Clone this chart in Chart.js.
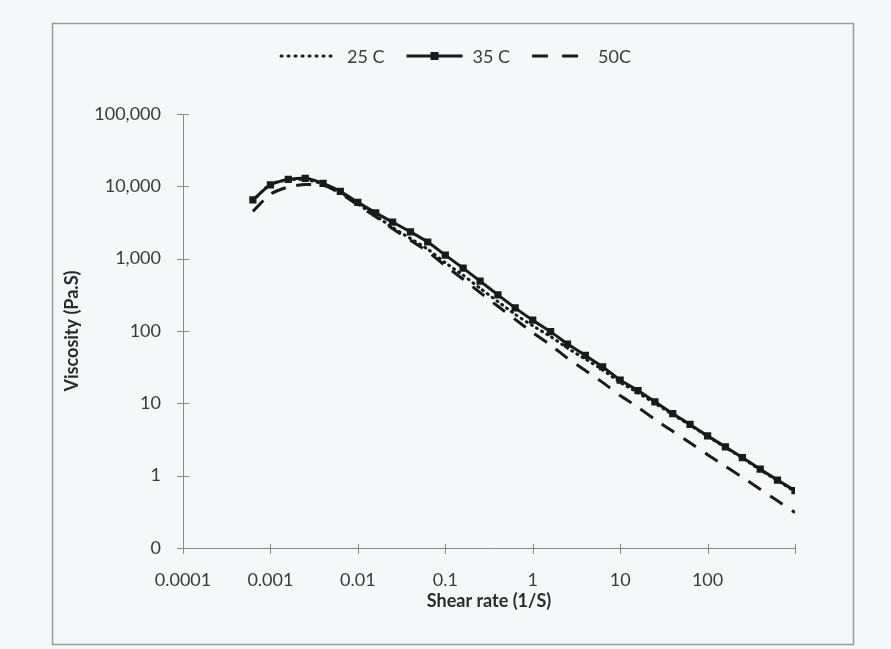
<!DOCTYPE html>
<html>
<head>
<meta charset="utf-8">
<script src="https://cdn.jsdelivr.net/npm/chart.js@4.4.1/dist/chart.umd.min.js"></script>
<style>
  html, body { margin: 0; padding: 0; background: #f6f7f9; }
  #wrap { width: 891px; height: 649px; position: relative; }
</style>
</head>
<body>
<div id="wrap"><canvas id="viscosite"></canvas></div>
<script>
// viscosity vs shear rate, 3 temperatures (log-log)

const shearRate = [0.00063, 0.001, 0.0016, 0.0025, 0.004, 0.0063, 0.01, 0.016, 0.025, 0.04, 0.063,
    0.1, 0.16, 0.25, 0.4, 0.63, 1, 1.6, 2.5, 4, 6.3, 10, 16, 25, 40, 63, 100, 160, 250, 400, 630, 1000];

const visc25 = [6300, 10800, 12300, 12400, 10800, 8300, 5700, 3900, 2700, 1900, 1350,
    880, 590, 390, 255, 170, 118, 84, 58, 41, 29, 19.5, 14, 10, 7, 5, 3.5, 2.45, 1.75, 1.2, 0.86, 0.6];

const visc35 = [6500, 10500, 12500, 12900, 11000, 8500, 6000, 4300, 3200, 2350, 1700,
    1120, 740, 490, 316, 209, 141, 98, 66, 46, 32, 21, 15, 10.5, 7.2, 5.1, 3.55, 2.5, 1.78, 1.23, 0.87, 0.62];

const visc50 = [4500, 7800, 9800, 10600, 10400, 8000, 5500, 3800, 2600, 1800, 1250,
    800, 520, 340, 220, 145, 95, 64, 42, 28.5, 19.5, 12.8, 8.8, 6.0, 4.1, 2.85, 1.95, 1.35, 0.95, 0.65, 0.45, 0.31];

const seriesNames = ["25 C", "35 C", "50C"];

const xTicks = [0.0001, 0.001, 0.01, 0.1, 1, 10, 100, 1000];
const xTickLabels = ["0.0001", "0.001", "0.01", "0.1", "1", "10", "100", ""];
const yTicks = [0.1, 1, 10, 100, 1000, 10000, 100000];
const yTickLabels = ["0", "1", "10", "100", "1,000", "10,000", "100,000"];

const ink = "#1a1a1a";
const axisGrey = "#8a8a8a";
const textGrey = "#3b3b3b";

function points(values) {
    return shearRate.map((x, i) => ({ x: x, y: values[i] }));
}

// frame around the whole chart
const framePlugin = {
    id: "frame",
    beforeDraw(chart) {
        const c = chart.ctx;
        c.save();
        c.strokeStyle = "#9a9a9a";
        c.lineWidth = 1.5;
        c.strokeRect(52.5, 23.5, 801, 621);
        c.restore();
    }
};

// excel style ticks that cross the axis
const crossTicks = {
    id: "crossTicks",
    afterDraw(chart) {
        const c = chart.ctx;
        const xs = chart.scales.x;
        const ys = chart.scales.y;
        const area = chart.chartArea;
        c.save();
        c.strokeStyle = axisGrey;
        c.lineWidth = 1;
        yTicks.forEach(v => {
            const py = Math.round(ys.getPixelForValue(v)) + 0.5;
            c.beginPath();
            c.moveTo(area.left - 6, py);
            c.lineTo(area.left + 6, py);
            c.stroke();
        });
        xTicks.forEach(v => {
            const px = Math.round(xs.getPixelForValue(v)) + 0.5;
            c.beginPath();
            c.moveTo(px, area.bottom - 4);
            c.lineTo(px, area.bottom + 6);
            c.stroke();
        });
        c.restore();
    }
};

// legend drawn by hand (line samples with dash / marker)
const legendPlugin = {
    id: "legendLines",
    afterDraw(chart) {
        const c = chart.ctx;
        const sample = 56, gap = 10, between = 22, y = 56;
        c.save();
        c.font = "18px Lato";
        c.textBaseline = "middle";
        const widths = chart.data.datasets.map(d => c.measureText(d.label).width);
        let total = 0;
        widths.forEach(w => total += sample + gap + w);
        total += between * (widths.length - 1);
        let x = 456 - total / 2;
        chart.data.datasets.forEach((d, i) => {
            c.strokeStyle = d.borderColor;
            c.lineWidth = d.borderWidth;
            c.lineCap = d.borderCapStyle || "butt";
            c.setLineDash(d.legendDash || []);
            c.beginPath();
            c.moveTo(x, y);
            c.lineTo(x + sample, y);
            c.stroke();
            c.setLineDash([]);
            if (d.pointRadius > 0) {
                c.fillStyle = d.borderColor;
                c.fillRect(x + sample / 2 - 4, y - 4, 8, 8);
            }
            c.fillStyle = textGrey;
            c.fillText(d.label, x + sample + gap, y + 1);
            x += sample + gap + widths[i] + between;
        });
        c.restore();
    }
};

const config = {
    type: "line",
    data: {
        datasets: [{
            label: seriesNames[0],
            data: points(visc25),
            borderColor: ink,
            borderWidth: 3,
            borderDash: [1, 5],
            legendDash: [1, 6],
            borderCapStyle: "round",
            pointRadius: 0,
            tension: 0.2,
            order: 2
        }, {
            label: seriesNames[1],
            data: points(visc35),
            borderColor: ink,
            backgroundColor: ink,
            borderWidth: 3,
            pointStyle: "rect",
            pointRadius: 3,
            pointBackgroundColor: ink,
            pointBorderColor: ink,
            tension: 0.2,
            order: 1
        }, {
            label: seriesNames[2],
            data: points(visc50),
            borderColor: ink,
            borderWidth: 3,
            borderDash: [15, 11],
            legendDash: [16, 14],
            pointRadius: 0,
            tension: 0.2,
            order: 3
        }]
    },
    options: {
        responsive: true,
        maintainAspectRatio: false,
        animation: false,
        layout: {
            padding: { top: 114, right: 96, left: 0, bottom: 0 }
        },
        plugins: {
            legend: { display: false },
            tooltip: { enabled: false }
        },
        scales: {
            x: {
                type: "logarithmic",
                min: 0.0001,
                max: 1000,
                afterBuildTicks: s => { s.ticks = xTicks.map(v => ({ value: v })); },
                afterFit: s => { s.height = 101; },
                grid: { display: true, drawOnChartArea: false, drawTicks: false, color: axisGrey },
                border: { color: axisGrey, width: 1 },
                ticks: {
                    autoSkip: false,
                    maxRotation: 0,
                    padding: 21,
                    color: textGrey,
                    font: { family: "Lato", size: 18 },
                    callback: (v, i) => xTickLabels[i]
                },
                title: {
                    display: true,
                    text: "Shear rate (1/S)",
                    color: "#2a2a2a",
                    font: { family: "Lato", size: 18, weight: "bold" },
                    padding: { top: 0, bottom: 37 }
                }
            },
            y: {
                type: "logarithmic",
                min: 0.1,
                max: 100000,
                afterBuildTicks: s => { s.ticks = yTicks.map(v => ({ value: v })); },
                afterFit: s => { s.width = 183; },
                grid: { display: true, drawOnChartArea: false, drawTicks: false, color: axisGrey },
                border: { color: axisGrey, width: 1 },
                ticks: {
                    autoSkip: false,
                    padding: 22,
                    color: textGrey,
                    font: { family: "Lato", size: 18 },
                    callback: (v, i) => yTickLabels[i]
                },
                title: {
                    display: true,
                    text: "Viscosity (Pa.S)",
                    color: "#2a2a2a",
                    font: { family: "Lato", size: 18, weight: "bold" },
                    padding: { top: 61, bottom: 0 }
                }
            }
        }
    },
    plugins: [framePlugin, crossTicks, legendPlugin]
};

new Chart(document.getElementById("viscosite").getContext("2d"), config);
</script>
</body>
</html>
